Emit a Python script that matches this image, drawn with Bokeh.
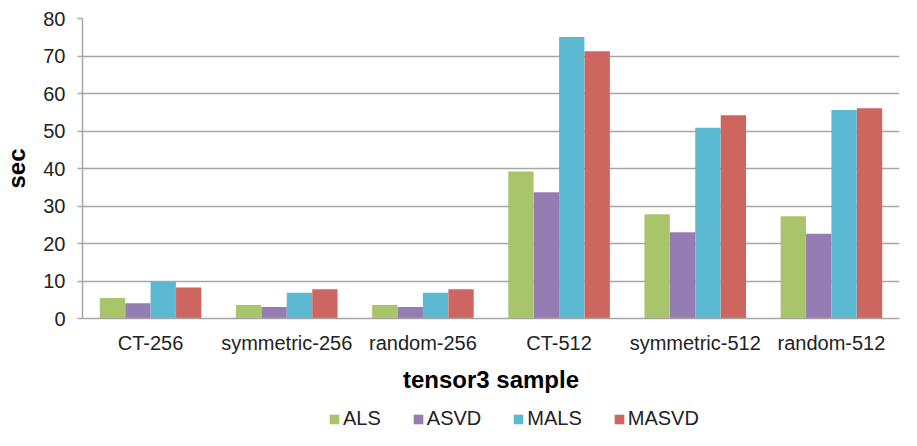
from bokeh.plotting import figure
from bokeh.layouts import column
from bokeh.models import ColumnDataSource, FactorRange, Legend, LegendItem, SingleIntervalTicker
from bokeh.transform import dodge
from bokeh.embed import file_html
from bokeh.resources import INLINE

categories = ["CT-256", "symmetric-256", "random-256", "CT-512", "symmetric-512", "random-512"]
series = ["ALS", "ASVD", "MALS", "MASVD"]
als = [5.5, 3.6, 3.6, 39.2, 27.8, 27.3]
asvd = [4.1, 3.1, 3.1, 33.7, 23.0, 22.6]
mals = [9.8, 6.9, 6.9, 75.1, 50.9, 55.6]
masvd = [8.3, 7.8, 7.8, 71.3, 54.2, 56.1]
colors = ["#a9c56b", "#957db4", "#5cb9d2", "#cd665f"]

FONT = "Liberation Sans"

source = ColumnDataSource(dict(cat=categories, ALS=als, ASVD=asvd, MALS=mals, MASVD=masvd))

p = figure(x_range=FactorRange(*categories, range_padding=0), y_range=(0, 80),
           width=901, height=407, output_backend="svg", toolbar_location=None,
           min_border_left=78, min_border_top=18, min_border_right=2, min_border_bottom=89)

offsets = [-0.28, -0.093, 0.093, 0.28]
for s, off, c in zip(series, offsets, colors):
    p.vbar(x=dodge("cat", off, range=p.x_range), top=s, width=0.186, source=source,
           fill_color=c, line_color=None)

p.outline_line_color = None
p.xgrid.grid_line_color = None
p.ygrid.grid_line_color = "#a6a6a6"
p.ygrid.grid_line_width = 1.5

p.yaxis.ticker = SingleIntervalTicker(interval=10)
p.yaxis.axis_label = "sec"
p.xaxis.axis_label = "tensor3 sample"
for ax in (p.xaxis[0], p.yaxis[0]):
    ax.axis_line_color = "#a6a6a6"
    ax.axis_line_width = 1.5
    ax.major_label_text_font = FONT
    ax.major_label_text_font_size = "20px"
    ax.major_label_text_color = "#222222"
    ax.axis_label_text_font = FONT
    ax.axis_label_text_font_style = "bold"
    ax.axis_label_text_font_size = "24px"
    ax.axis_label_text_color = "#000000"
    ax.minor_tick_line_color = None
p.xaxis.major_tick_line_color = None
p.xaxis.major_label_standoff = 7
p.xaxis.axis_label_standoff = 9
p.yaxis.major_tick_line_color = "#a6a6a6"
p.yaxis.major_tick_line_width = 1.5
p.yaxis.major_tick_out = 5
p.yaxis.major_tick_in = 0
p.yaxis.major_label_standoff = 12
p.yaxis.axis_label_standoff = 10

# legend strip
q = figure(width=901, height=23, x_range=(0, 1), y_range=(0, 1), output_backend="svg",
           toolbar_location=None, min_border=0)
q.axis.visible = False
q.grid.grid_line_color = None
q.outline_line_color = None
dummy = ColumnDataSource(dict(x=[-5], top=[-5]))
items = []
for s, c in zip(series, colors):
    r = q.vbar(x="x", top="top", width=0.1, source=dummy, fill_color=c, line_color=None)
    items.append(LegendItem(label=s, renderers=[r]))
legend = Legend(items=items, orientation="horizontal", location=(246, 0),
                label_text_font=FONT, label_text_font_size="20px", label_text_color="#222222",
                glyph_width=12, glyph_height=12, label_standoff=3, spacing=31,
                border_line_color=None, background_fill_alpha=0, margin=0, padding=0)
q.add_layout(legend, "center")

layout = column(p, q, spacing=0)
open("out.html", "w").write(file_html(layout, INLINE))
